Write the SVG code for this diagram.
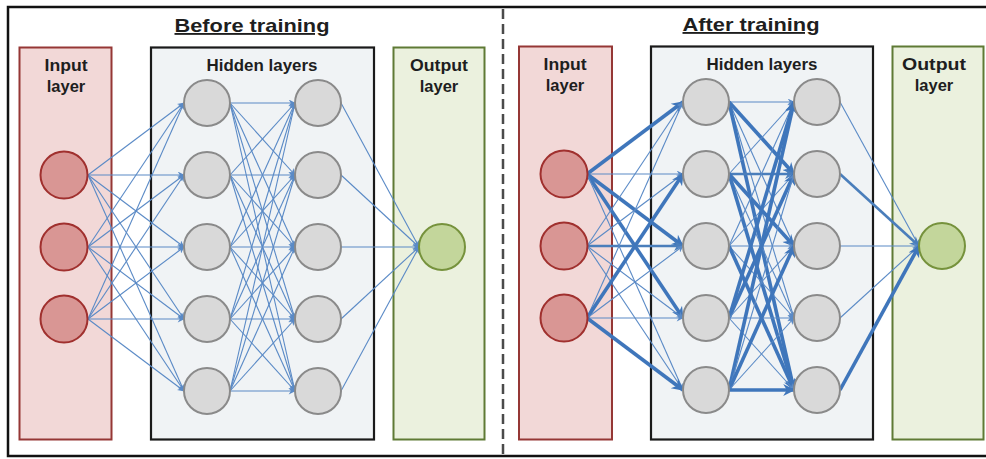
<svg xmlns="http://www.w3.org/2000/svg" width="986" height="459" viewBox="0 0 986 459">
<style>
text{font-family:"Liberation Sans",Arial,sans-serif;font-weight:bold;fill:#1e1e1e;text-anchor:middle}
.lbl{font-size:16.5px}
.ttl{font-size:18.5px;text-decoration:underline}
.inbox{fill:#f2d8d7;stroke:#953735;stroke-width:2}
.hidbox{fill:#f0f3f5;stroke:#1a1a1a;stroke-width:2.2}
.outbox{fill:#ebf1de;stroke:#5f7a35;stroke-width:2}
.inn{fill:#d99694;stroke:#a0302e;stroke-width:2}
.hn{fill:#d9d9d9;stroke:#8a8a8a;stroke-width:2}
.on{fill:#c3d69b;stroke:#76923c;stroke-width:2}
.e{stroke:#5a8ac6;stroke-width:1.1;fill:none;marker-end:url(#at)}
.m{stroke:#4a7ebb;stroke-width:2.6;fill:none;marker-end:url(#am)}
.t{stroke:#3f76bb;stroke-width:3.6;fill:none;marker-end:url(#ak)}
</style>
<defs>
<marker id="at" viewBox="0 0 10 10" refX="9" refY="5" markerWidth="8" markerHeight="7" markerUnits="userSpaceOnUse" orient="auto"><path d="M0,0 L10,5 L0,10 L3,5 z" fill="#5a8ac6"/></marker>
<marker id="am" viewBox="0 0 10 10" refX="9" refY="5" markerWidth="11" markerHeight="10" markerUnits="userSpaceOnUse" orient="auto"><path d="M0,0 L10,5 L0,10 L3,5 z" fill="#4a7ebb"/></marker>
<marker id="ak" viewBox="0 0 10 10" refX="9" refY="5" markerWidth="14" markerHeight="12" markerUnits="userSpaceOnUse" orient="auto"><path d="M0,0 L10,5 L0,10 L3,5 z" fill="#3f76bb"/></marker>
</defs>
<rect x="8" y="7" width="990" height="449" fill="#fff" stroke="#111" stroke-width="2.5"/>
<line x1="503" y1="9" x2="503" y2="459" stroke="#4a4a4a" stroke-width="2.5" stroke-dasharray="10,5"/>

<g id="title-before"><text class="ttl" x="252" y="32" textLength="155" lengthAdjust="spacingAndGlyphs">Before training</text></g>
<g id="title-after"><text class="ttl" x="751" y="31" textLength="137" lengthAdjust="spacingAndGlyphs">After training</text></g>

<g id="before-input-layer"><rect class="inbox" x="19.5" y="47.5" width="92" height="392"/><text class="lbl" x="66" y="70.5" textLength="43" lengthAdjust="spacingAndGlyphs">Input</text><text class="lbl" x="66" y="92">layer</text></g>
<g id="before-hidden-layers"><rect class="hidbox" x="151" y="47.5" width="223" height="392"/><text class="lbl" x="262" y="70.5" textLength="111" lengthAdjust="spacingAndGlyphs">Hidden layers</text></g>
<g id="before-output-layer"><rect class="outbox" x="393.5" y="47.5" width="91" height="392"/><text class="lbl" x="439" y="70.5" textLength="58" lengthAdjust="spacingAndGlyphs">Output</text><text class="lbl" x="439" y="92">layer</text></g>

<g id="after-input-layer"><rect class="inbox" x="519" y="46.5" width="93" height="393"/><text class="lbl" x="565" y="69.5" textLength="43" lengthAdjust="spacingAndGlyphs">Input</text><text class="lbl" x="565" y="91">layer</text></g>
<g id="after-hidden-layers"><rect class="hidbox" x="651" y="46.5" width="222" height="393"/><text class="lbl" x="762" y="69.5" textLength="111" lengthAdjust="spacingAndGlyphs">Hidden layers</text></g>
<g id="after-output-layer"><rect class="outbox" x="892.5" y="46.5" width="91" height="393"/><text class="lbl" x="934" y="69.5" textLength="64" lengthAdjust="spacingAndGlyphs">Output</text><text class="lbl" x="934" y="91">layer</text></g>

<g id="connectors">
<!-- before: input -> hidden1 -->
<line class="e" x1="88" y1="175" x2="184" y2="103"/><line class="e" x1="88" y1="175" x2="184" y2="175"/><line class="e" x1="88" y1="175" x2="184" y2="247"/><line class="e" x1="88" y1="175" x2="184" y2="319"/><line class="e" x1="88" y1="175" x2="184" y2="391"/>
<line class="e" x1="88" y1="247" x2="184" y2="103"/><line class="e" x1="88" y1="247" x2="184" y2="175"/><line class="e" x1="88" y1="247" x2="184" y2="247"/><line class="e" x1="88" y1="247" x2="184" y2="319"/><line class="e" x1="88" y1="247" x2="184" y2="391"/>
<line class="e" x1="88" y1="319" x2="184" y2="103"/><line class="e" x1="88" y1="319" x2="184" y2="175"/><line class="e" x1="88" y1="319" x2="184" y2="247"/><line class="e" x1="88" y1="319" x2="184" y2="319"/><line class="e" x1="88" y1="319" x2="184" y2="391"/>
<!-- before: hidden1 -> hidden2 -->
<line class="e" x1="230" y1="103" x2="295" y2="103"/><line class="e" x1="230" y1="103" x2="295" y2="175"/><line class="e" x1="230" y1="103" x2="295" y2="247"/><line class="e" x1="230" y1="103" x2="295" y2="319"/><line class="e" x1="230" y1="103" x2="295" y2="391"/>
<line class="e" x1="230" y1="175" x2="295" y2="103"/><line class="e" x1="230" y1="175" x2="295" y2="175"/><line class="e" x1="230" y1="175" x2="295" y2="247"/><line class="e" x1="230" y1="175" x2="295" y2="319"/><line class="e" x1="230" y1="175" x2="295" y2="391"/>
<line class="e" x1="230" y1="247" x2="295" y2="103"/><line class="e" x1="230" y1="247" x2="295" y2="175"/><line class="e" x1="230" y1="247" x2="295" y2="247"/><line class="e" x1="230" y1="247" x2="295" y2="319"/><line class="e" x1="230" y1="247" x2="295" y2="391"/>
<line class="e" x1="230" y1="319" x2="295" y2="103"/><line class="e" x1="230" y1="319" x2="295" y2="175"/><line class="e" x1="230" y1="319" x2="295" y2="247"/><line class="e" x1="230" y1="319" x2="295" y2="319"/><line class="e" x1="230" y1="319" x2="295" y2="391"/>
<line class="e" x1="230" y1="391" x2="295" y2="103"/><line class="e" x1="230" y1="391" x2="295" y2="175"/><line class="e" x1="230" y1="391" x2="295" y2="247"/><line class="e" x1="230" y1="391" x2="295" y2="319"/><line class="e" x1="230" y1="391" x2="295" y2="391"/>
<!-- before: hidden2 -> output -->
<line class="e" x1="341" y1="103" x2="419" y2="247"/><line class="e" x1="341" y1="175" x2="419" y2="247"/><line class="e" x1="341" y1="247" x2="419" y2="247"/><line class="e" x1="341" y1="319" x2="419" y2="247"/><line class="e" x1="341" y1="391" x2="419" y2="247"/>

<!-- after: input -> hidden1 -->
<line class="t" x1="587" y1="174" x2="683" y2="102"/><line class="e" x1="587" y1="174" x2="683" y2="174"/><line class="t" x1="587" y1="174" x2="683" y2="246"/><line class="t" x1="587" y1="174" x2="683" y2="318"/><line class="e" x1="587" y1="174" x2="683" y2="390"/>
<line class="e" x1="587" y1="246" x2="683" y2="102"/><line class="e" x1="587" y1="246" x2="683" y2="174"/><line class="m" x1="587" y1="246" x2="683" y2="246"/><line class="e" x1="587" y1="246" x2="683" y2="318"/><line class="e" x1="587" y1="246" x2="683" y2="390"/>
<line class="e" x1="587" y1="318" x2="683" y2="102"/><line class="t" x1="587" y1="318" x2="683" y2="174"/><line class="e" x1="587" y1="318" x2="683" y2="246"/><line class="e" x1="587" y1="318" x2="683" y2="318"/><line class="t" x1="587" y1="318" x2="683" y2="390"/>
<!-- after: hidden1 -> hidden2 -->
<line class="e" x1="729" y1="102" x2="794" y2="102"/><line class="t" x1="729" y1="102" x2="794" y2="174"/><line class="e" x1="729" y1="102" x2="794" y2="246"/><line class="e" x1="729" y1="102" x2="794" y2="318"/><line class="t" x1="729" y1="102" x2="794" y2="390"/>
<line class="e" x1="729" y1="174" x2="794" y2="102"/><line class="m" x1="729" y1="174" x2="794" y2="174"/><line class="t" x1="729" y1="174" x2="794" y2="246"/><line class="e" x1="729" y1="174" x2="794" y2="318"/><line class="t" x1="729" y1="174" x2="794" y2="390"/>
<line class="e" x1="729" y1="246" x2="794" y2="102"/><line class="e" x1="729" y1="246" x2="794" y2="174"/><line class="e" x1="729" y1="246" x2="794" y2="246"/><line class="e" x1="729" y1="246" x2="794" y2="318"/><line class="t" x1="729" y1="246" x2="794" y2="390"/>
<line class="t" x1="729" y1="318" x2="794" y2="102"/><line class="t" x1="729" y1="318" x2="794" y2="174"/><line class="e" x1="729" y1="318" x2="794" y2="246"/><line class="e" x1="729" y1="318" x2="794" y2="318"/><line class="e" x1="729" y1="318" x2="794" y2="390"/>
<line class="t" x1="729" y1="390" x2="794" y2="102"/><line class="e" x1="729" y1="390" x2="794" y2="174"/><line class="t" x1="729" y1="390" x2="794" y2="246"/><line class="e" x1="729" y1="390" x2="794" y2="318"/><line class="t" x1="729" y1="390" x2="794" y2="390"/>
<!-- after: hidden2 -> output -->
<line class="e" x1="840" y1="102" x2="919" y2="246"/><line class="m" x1="840" y1="174" x2="919" y2="246"/><line class="e" x1="840" y1="246" x2="919" y2="246"/><line class="e" x1="840" y1="318" x2="919" y2="246"/><line class="t" x1="840" y1="390" x2="919" y2="246"/>
</g>

<g id="before-in1"><circle class="inn" cx="64" cy="175" r="23.5"/></g>
<g id="before-in2"><circle class="inn" cx="64" cy="247" r="23.5"/></g>
<g id="before-in3"><circle class="inn" cx="64" cy="319" r="23.5"/></g>
<g id="before-h1-1"><circle class="hn" cx="207" cy="103" r="23"/></g>
<g id="before-h1-2"><circle class="hn" cx="207" cy="175" r="23"/></g>
<g id="before-h1-3"><circle class="hn" cx="207" cy="247" r="23"/></g>
<g id="before-h1-4"><circle class="hn" cx="207" cy="319" r="23"/></g>
<g id="before-h1-5"><circle class="hn" cx="207" cy="391" r="23"/></g>
<g id="before-h2-1"><circle class="hn" cx="318" cy="103" r="23"/></g>
<g id="before-h2-2"><circle class="hn" cx="318" cy="175" r="23"/></g>
<g id="before-h2-3"><circle class="hn" cx="318" cy="247" r="23"/></g>
<g id="before-h2-4"><circle class="hn" cx="318" cy="319" r="23"/></g>
<g id="before-h2-5"><circle class="hn" cx="318" cy="391" r="23"/></g>
<g id="before-out"><circle class="on" cx="442" cy="247" r="23"/></g>

<g id="after-in1"><circle class="inn" cx="564" cy="174" r="23.5"/></g>
<g id="after-in2"><circle class="inn" cx="564" cy="246" r="23.5"/></g>
<g id="after-in3"><circle class="inn" cx="564" cy="318" r="23.5"/></g>
<g id="after-h1-1"><circle class="hn" cx="706" cy="102" r="23"/></g>
<g id="after-h1-2"><circle class="hn" cx="706" cy="174" r="23"/></g>
<g id="after-h1-3"><circle class="hn" cx="706" cy="246" r="23"/></g>
<g id="after-h1-4"><circle class="hn" cx="706" cy="318" r="23"/></g>
<g id="after-h1-5"><circle class="hn" cx="706" cy="390" r="23"/></g>
<g id="after-h2-1"><circle class="hn" cx="817" cy="102" r="23"/></g>
<g id="after-h2-2"><circle class="hn" cx="817" cy="174" r="23"/></g>
<g id="after-h2-3"><circle class="hn" cx="817" cy="246" r="23"/></g>
<g id="after-h2-4"><circle class="hn" cx="817" cy="318" r="23"/></g>
<g id="after-h2-5"><circle class="hn" cx="817" cy="390" r="23"/></g>
<g id="after-out"><circle class="on" cx="942" cy="246" r="23"/></g>
</svg>
